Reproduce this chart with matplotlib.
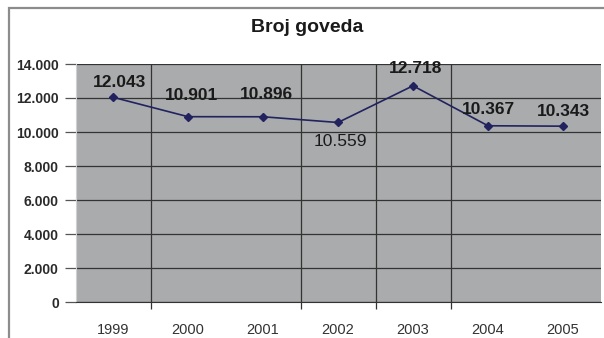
"""Line chart of cattle count (Broj goveda) 1999-2005, Excel-style grey plot area."""

import matplotlib

matplotlib.use("Agg")

import matplotlib.pyplot as plt
from matplotlib.patches import Rectangle

YEARS = ["1999", "2000", "2001", "2002", "2003", "2004", "2005"]
CATTLE = [12043, 10901, 10896, 10559, 12718, 10367, 10343]
VALUE_LABELS = ["12.043", "10.901", "10.896", "10.559", "12.718", "10.367", "10.343"]
Y_TICKS = [0, 2000, 4000, 6000, 8000, 10000, 12000, 14000]
Y_TICK_LABELS = ["0", "2.000", "4.000", "6.000", "8.000", "10.000", "12.000", "14.000"]
TITLE = "Broj goveda"

# pixel offsets of each data label relative to its point (scan layout)
LABEL_OFFSETS = [(6, 15), (4, 21), (3, 22), (2, -19), (3, 17), (0, 16), (0, 15)]
LABEL_WEIGHTS = ["bold", "bold", "bold", "normal", "bold", "bold", "bold"]

plt.rcParams["font.family"] = ["Liberation Sans", "DejaVu Sans"]

fig = plt.figure(figsize=(6.04, 3.38), dpi=100)
ax = fig.add_axes([75.5 / 604, 36 / 338, 525 / 604, 238 / 338])

# outer chart border (cropped at right and bottom in the reference)
fig.patches.append(
    Rectangle((9 / 604, -0.1), 1.2, (338 - 8) / 338 + 0.1,
              transform=fig.transFigure, fill=False,
              edgecolor="#8c8c8c", linewidth=1.6)
)

ax.set_facecolor("#a9abad")
x = list(range(len(YEARS)))
ax.plot(x, CATTLE, color="#22225e", linewidth=1.2, marker="D",
        markersize=4.5, markerfacecolor="#22225e", zorder=3)

for xi, val, lab, (dx, dy), w in zip(x, CATTLE, VALUE_LABELS, LABEL_OFFSETS, LABEL_WEIGHTS):
    ax.annotate(lab, (xi, val), xytext=(dx, dy), textcoords="offset pixels",
                ha="center", va="center", fontsize=12.5, fontweight=w,
                color="#1a1a1a", zorder=4)

ax.set_xlim(-0.5, len(YEARS) - 0.5)
ax.set_ylim(0, 14000)
ax.set_yticks(Y_TICKS)
ax.set_yticklabels(Y_TICK_LABELS, fontsize=10, fontweight="bold", color="#2a2a2a")
ax.set_xticks(x)
ax.set_xticklabels(YEARS, fontsize=10.5, color="#333333")
ax.tick_params(axis="x", which="major", length=0, pad=15)
ax.tick_params(axis="y", length=8, width=0.9, color="#555555", pad=4)

ax.set_xticks([0.5, 2.5, 3.5, 4.5], minor=True)
ax.tick_params(axis="x", which="minor", length=5, width=0.9, color="#333333")
ax.grid(axis="x", which="minor", color="#333333", linewidth=0.9)
ax.grid(axis="y", which="major", color="#333333", linewidth=0.9)
ax.set_axisbelow(True)

for side in ("top", "right"):
    ax.spines[side].set_visible(False)
ax.spines["left"].set_color("#d0d0d0")
ax.spines["bottom"].set_color("#333333")

fig.text(307 / 604, 1 - 27 / 338, TITLE, ha="center", va="center",
         fontsize=14, fontweight="bold", color="#1a1a1a")

fig.savefig("out.png", dpi=100)
